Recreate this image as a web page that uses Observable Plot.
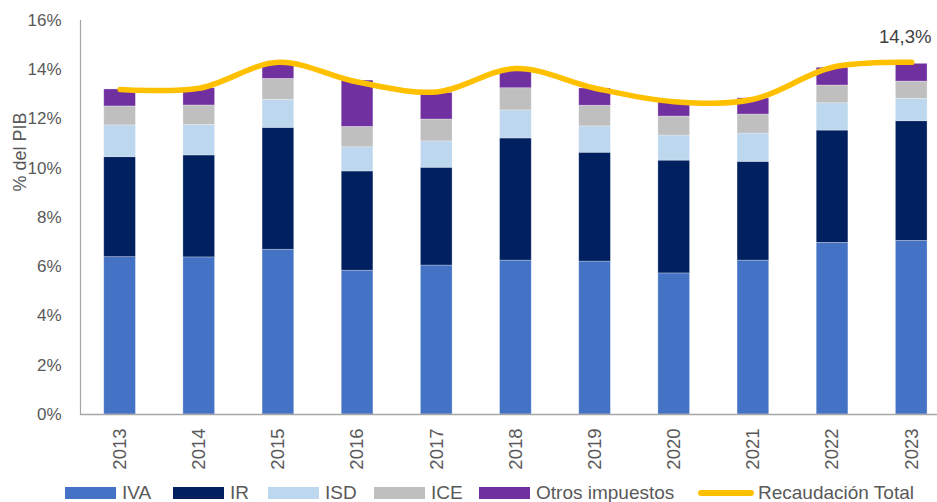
<!DOCTYPE html>
<html>
<head>
<meta charset="utf-8">
<script src="https://cdn.jsdelivr.net/npm/d3@7"></script>
<script src="https://cdn.jsdelivr.net/npm/@observablehq/plot@0.6"></script>
<style>
  html, body { margin: 0; padding: 0; background: #fff; }
  #wrap { position: relative; width: 937px; height: 502px; overflow: hidden; }
  #legend { position: absolute; left: 0; top: 480px; width: 937px; height: 26px;
            font-family: "Liberation Sans", Arial, sans-serif; font-size: 19px; color: #595959; }
  .item { position: absolute; top: 0; height: 100%; display: flex; align-items: center; white-space: nowrap; }
  .sw { width: 51px; height: 12.5px; margin-right: 6px; }
  .ln { width: 56px; height: 5.5px; border-radius: 3px; margin-right: 4px; }
</style>
</head>
<body>
<div id="wrap">
  <div id="chart"></div>
  <div id="legend"></div>
</div>
<script>
// ---- data (values in % of GDP) ----
const years = ["2013", "2014", "2015", "2016", "2017", "2018", "2019", "2020", "2021", "2022", "2023"];
const seriesNames = ["IVA", "IR", "ISD", "ICE", "Otros impuestos"];
const iva   = [6.39, 6.38, 6.69, 5.84, 6.05, 6.25, 6.21, 5.73, 6.25, 6.97, 7.05];
const ir    = [4.06, 4.14, 4.95, 4.03, 3.97, 4.96, 4.42, 4.58, 4.01, 4.56, 4.86];
const isd   = [1.29, 1.24, 1.14, 0.98, 1.07, 1.14, 1.07, 1.02, 1.15, 1.11, 0.91];
const ice   = [0.77, 0.79, 0.85, 0.83, 0.89, 0.90, 0.84, 0.77, 0.77, 0.72, 0.70];
const otros = [0.69, 0.70, 0.57, 1.88, 1.08, 0.72, 0.70, 0.58, 0.66, 0.72, 0.72];
const totalName = "Recaudación Total";
const total = [13.2, 13.25, 14.3, 13.5, 13.1, 14.05, 13.25, 12.7, 12.8, 14.1, 14.3];
const yTicks = [0, 2, 4, 6, 8, 10, 12, 14, 16];
const yLabel = "% del PIB";
const lastLabel = "14,3%";

// ---- styles ----
const colors = ["#4472C4", "#002060", "#BDD7EE", "#BFBFBF", "#7030A0"];
const lineColor = "#FFC000";
const textColor = "#595959";

const seriesValues = [iva, ir, isd, ice, otros];
const rows = years.flatMap((yr, i) => seriesNames.map((s, k) => ({year: yr, tax: s, value: seriesValues[k][i]})));
const totals = years.map((yr, i) => ({year: yr, total: total[i]}));

const chart = Plot.plot({
  width: 937,
  height: 478,
  marginTop: 20,
  marginBottom: 64,
  marginLeft: 80,
  marginRight: 0,
  style: {fontFamily: "Liberation Sans, Arial, sans-serif", background: "#fff", color: textColor},
  x: {type: "band", domain: years, range: [80, 950.8], paddingInner: 0.6, paddingOuter: 0.3, round: false, label: null},
  y: {domain: [0, 16], label: null},
  color: {domain: seriesNames, range: colors},
  marks: [
    Plot.barY(rows, Plot.stackY({x: "year", y: "value", fill: "tax", z: "tax", order: seriesNames,
      stroke: "#fff", strokeOpacity: 0.35, strokeWidth: 0.8})),
    Plot.frame({anchor: "left", stroke: "#a6a6a6", strokeWidth: 1.2}),
    Plot.ruleY([0], {stroke: "#a6a6a6", strokeWidth: 1.5}),
    Plot.axisY({ticks: yTicks, tickFormat: d => d + "%", tickSize: 0, tickPadding: 19, fontSize: 17, fill: textColor, label: null}),
    Plot.axisX({tickRotate: -90, tickSize: 0, tickPadding: 14, fontSize: 18.5, fill: textColor, label: null}),
    Plot.line(totals, {x: "year", y: "total", stroke: lineColor, strokeWidth: 5.5, curve: "catmull-rom", strokeLinecap: "round"}),
    Plot.text(totals.slice(-1), {x: "year", y: "total", text: () => lastLabel, fontSize: 18.5, fill: "#404040", dx: -6.5, dy: -25.6}),
    Plot.text([yLabel], {frameAnchor: "left", text: d => d, rotate: -90, dx: -60, dy: -26, fontSize: 18, fill: textColor})
  ]
});
document.getElementById("chart").appendChild(chart);

// ---- legend ----
const legendX = [65, 173, 268, 374, 479, 698];
const legend = document.getElementById("legend");
seriesNames.forEach((s, k) => {
  const it = document.createElement("div");
  it.className = "item";
  it.style.left = legendX[k] + "px";
  it.innerHTML = `<span class="sw" style="background:${colors[k]}"></span><span>${s}</span>`;
  legend.appendChild(it);
});
const itl = document.createElement("div");
itl.className = "item";
itl.style.left = legendX[5] + "px";
itl.innerHTML = `<span class="ln" style="background:${lineColor}"></span><span>${totalName}</span>`;
legend.appendChild(itl);
</script>
</body>
</html>
